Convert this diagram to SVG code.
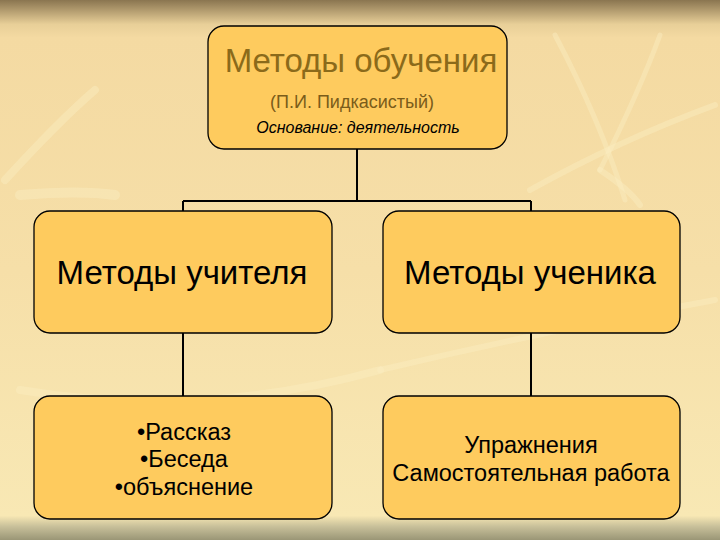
<svg xmlns="http://www.w3.org/2000/svg" width="720" height="540" viewBox="0 0 720 540">
<defs>
<linearGradient id="bg" x1="0" y1="0" x2="0" y2="1">
<stop offset="0" stop-color="#8a7550"/>
<stop offset="0.045" stop-color="#e8cf98"/>
<stop offset="0.07" stop-color="#f4daa2"/>
<stop offset="0.5" stop-color="#f6dfa8"/>
<stop offset="0.955" stop-color="#f8e8b4"/>
<stop offset="0.975" stop-color="#c8c09a"/>
<stop offset="1" stop-color="#9a9676"/>
</linearGradient>
<style>
.box{fill:#fecb5e;stroke:#000;stroke-width:1.3}
.t{font-family:"Liberation Sans",Arial,sans-serif;text-anchor:middle;fill:#000}
.big{font-size:33px}
.mid{font-size:23.5px}
.line{stroke:#000;stroke-width:2;fill:none}
.sw{stroke:#fbeec0;fill:none;stroke-linecap:round;opacity:0.45}
</style>
</defs>
<rect width="720" height="540" fill="url(#bg)"/>
<g id="background-swirls">
<path class="sw" stroke-width="8" d="M5 180 Q60 120 95 90"/>
<path class="sw" stroke-width="10" d="M20 195 Q80 190 115 195"/>
<path class="sw" stroke-width="5" d="M555 35 Q600 120 625 200"/>
<path class="sw" stroke-width="5" d="M660 35 Q640 90 600 170"/>
<path class="sw" stroke-width="6" d="M530 190 Q620 140 715 105"/>
<path class="sw" stroke-width="6" d="M600 170 Q630 190 640 205"/>
<path class="sw" stroke-width="8" d="M20 390 Q200 420 380 370"/>
<path class="sw" stroke-width="6" d="M380 370 Q550 330 715 300"/>
</g>
<g id="connectors">
<path class="line" d="M357 149 V201 M183 201 H531 M183 201 V212 M531 201 V212"/>
<path class="line" d="M183 333 V397 M531 333 V397"/>
</g>
<g id="root">
<rect class="box" x="208" y="26" width="299" height="123" rx="16"/>
<text class="t big" x="361" y="72" style="fill:#8b6a1a">Методы обучения</text>
<text class="t" x="352" y="108" font-size="18" style="fill:#7a5c1a">(П.И. Пидкасистый)</text>
<text class="t" x="358" y="133" font-size="16" font-style="italic">Основание: деятельность</text>
</g>
<g id="teacher">
<rect class="box" x="34" y="211" width="298" height="122" rx="16"/>
<text class="t big" x="182" y="284">Методы учителя</text>
</g>
<g id="student">
<rect class="box" x="383" y="211" width="297" height="122" rx="16"/>
<text class="t big" x="530" y="284">Методы ученика</text>
</g>
<g id="teacher-list">
<rect class="box" x="34" y="396" width="298" height="123" rx="16"/>
<text class="t mid" x="184" y="440">•Рассказ</text>
<text class="t mid" x="184" y="467">•Беседа</text>
<text class="t mid" x="184" y="495">•объяснение</text>
</g>
<g id="student-list">
<rect class="box" x="383" y="396" width="297" height="123" rx="16"/>
<text class="t mid" x="531" y="453">Упражнения</text>
<text class="t mid" x="531" y="481">Самостоятельная работа</text>
</g>
</svg>
